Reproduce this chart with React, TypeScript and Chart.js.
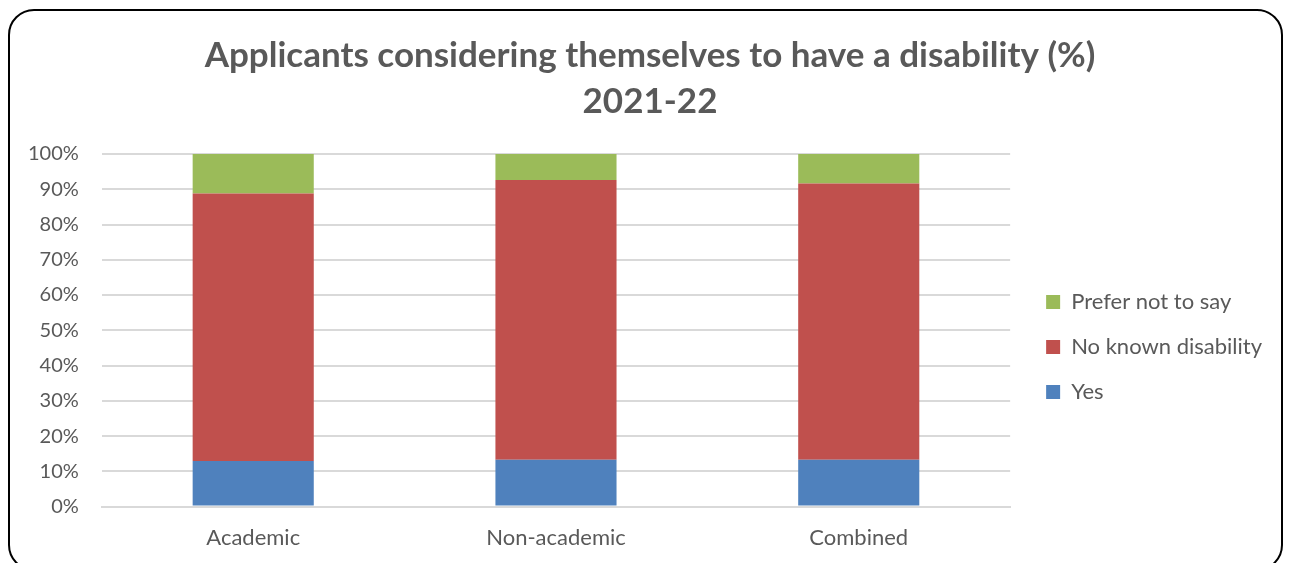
import React, { useEffect, useRef } from "react";
import { Chart, registerables } from "chart.js";

Chart.register(...registerables);

const categories = ["Academic", "Non-academic", "Combined"];
const yesValues = [12.9, 13.3, 13.3];
const noKnownValues = [75.9, 79.3, 78.3];
const preferNotValues = [11.2, 7.4, 8.4];
const titleLines = ["Applicants considering themselves to have a disability (%)", "2021-22"];

export default function App() {
  const ref = useRef<HTMLCanvasElement | null>(null);
  useEffect(() => {
    if (!ref.current) return;
    const font = "Lato, 'Open Sans', sans-serif";
    const chart = new Chart(ref.current, {
      type: "bar",
      data: {
        labels: categories,
        datasets: [
          { label: "Yes", data: yesValues, backgroundColor: "#4f81bd", borderWidth: 0 },
          { label: "No known disability", data: noKnownValues, backgroundColor: "#c0504d", borderWidth: 0 },
          { label: "Prefer not to say", data: preferNotValues, backgroundColor: "#9bbb59", borderWidth: 0 },
        ],
      },
      options: {
        responsive: true,
        maintainAspectRatio: false,
        animation: false,
        layout: { padding: { left: 18, right: 9, top: 0, bottom: 0 } },
        datasets: { bar: { barPercentage: 0.4, categoryPercentage: 1 } } as any,
        plugins: {
          title: {
            display: true,
            text: titleLines,
            color: "#595959",
            font: { family: font, size: 35, weight: "bold", lineHeight: 1.3 },
            padding: { top: 22, bottom: 30 },
          },
          legend: {
            position: "right",
            reverse: true,
            maxWidth: 400,
            title: {
              display: true,
              text: " ",
              font: { size: 10, lineHeight: 1 },
              padding: { top: 104, bottom: 0 },
            },
            labels: {
              color: "#595959",
              font: { family: font, size: 22 },
              boxWidth: 14,
              boxHeight: 14,
              padding: 23,
            },
          },
          tooltip: { enabled: false },
        },
        scales: {
          x: {
            stacked: true,
            grid: { display: false, drawTicks: false },
            border: { color: "#d9d9d9", width: 2 },
            ticks: { color: "#595959", font: { family: font, size: 22 }, padding: 18 },
          },
          y: {
            stacked: true,
            min: 0,
            max: 100,
            grid: { color: "#d9d9d9", lineWidth: 2, drawTicks: false },
            border: { display: false },
            ticks: {
              stepSize: 10,
              color: "#595959",
              font: { family: font, size: 20 },
              padding: 23,
              callback: (v: any) => v + "%",
            },
            afterFit: (s: any) => {
              s.width = s.width - 23;
            },
          },
          gap: {
            type: "linear",
            position: "right",
            display: true,
            grid: { display: false, drawTicks: false },
            border: { display: false },
            ticks: { display: false },
            afterFit: (s: any) => {
              s.width = 13;
            },
          } as any,
        },
      },
    });
    return () => chart.destroy();
  }, []);
  return (
    <div
      style={{
        position: "relative",
        width: 1275,
        height: 562,
        border: "2px solid #000",
        borderRadius: 26,
        boxSizing: "border-box",
        marginTop: 1,
        background: "#fff",
        overflow: "hidden",
      }}
    >
      <canvas ref={ref} />
    </div>
  );
}
